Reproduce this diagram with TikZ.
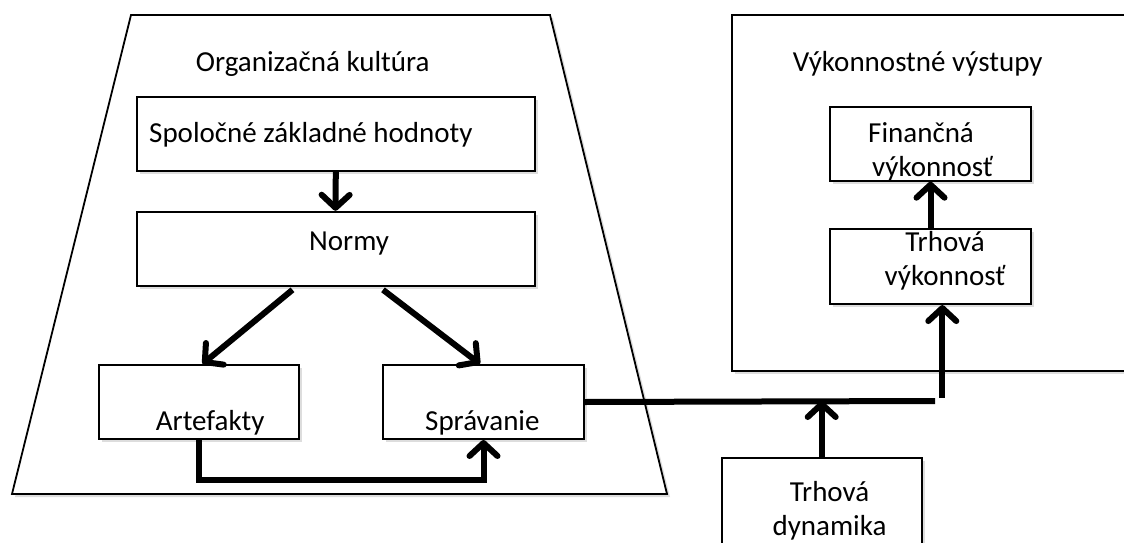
\documentclass[tikz,border=0pt]{standalone}
\usepackage{fontspec}
\setmainfont{Carlito}
\usetikzlibrary{arrows.meta,shadows}

\tikzset{
  shade/.style={drop shadow={shadow xshift=3pt,shadow yshift=-3pt,opacity=0.22,fill=black!60}},
  box/.style={draw,line width=2pt,fill=white,inner sep=0pt,shade},
  lbl/.style={inner sep=0pt,font=\fontsize{29}{34}\selectfont},
  arr/.style={line width=6pt,-{Straight Barb[length=13pt,width=28pt,round]}}
}

\begin{document}
\begin{tikzpicture}[x=1pt,y=-1pt]
  \clip (0,0) rectangle (1124,543);
  % Outer frames
  \draw[line width=1.8pt,fill=white,shade] (131,15) -- (550,15) -- (667,494) -- (12,494) -- cycle;
  \draw[line width=1.8pt,fill=white,shade] (732,15) rectangle (1140,370.7);
  \node[lbl,anchor=base west] (kultura) at (195.7,71.7) {Organizačná kultúra};
  \node[lbl,anchor=base west] (vystupy) at (792.7,71.7) {Výkonnostné výstupy};
  % Boxes of the culture
  \node[box,minimum width=398pt,minimum height=74pt] (hodnoty) at (335.8,133.7) {};
  \node[box,minimum width=398pt,minimum height=74pt] (normy) at (335.5,248.8) {};
  \node[box,minimum width=200pt,minimum height=74pt] (artefakty) at (199,402) {};
  \node[box,minimum width=201pt,minimum height=74pt] (spravanie) at (483.5,402) {};
  \node[lbl,anchor=base west] at (149,142) {Spoločné základné hodnoty};
  \node[lbl,anchor=base west] at (309,250) {Normy};
  \node[lbl,anchor=base west] at (155.7,430) {Artefakty};
  \node[lbl,anchor=base west] at (425,430) {Správanie};
  % Boxes of the outputs
  \node[box,minimum width=201pt,minimum height=74pt] (financna) at (930.5,143.7) {};
  \node[box,minimum width=201pt,minimum height=74.7pt] (trhova) at (930.5,266.7) {};
  \node[box,minimum width=200pt,minimum height=100pt] (dynamika) at (821.7,508) {};
  \node[lbl,anchor=base west,align=left] at (868,176.7) {Finančná\\\hspace*{4pt}výkonnosť};
  \node[lbl,anchor=base,align=center] at (945,285) {Trhová\\výkonnosť};
  \node[lbl,anchor=base,align=center] at (829.5,535) {Trhová\\dynamika};
  % Connectors
  \coordinate (spoj) at (935,401);
  \coordinate (vzostup) at (942.3,398);
  \draw[arr] (hodnoty.south) -- (normy.north);
  \draw[arr] ([xshift=-43pt,yshift=-3pt]normy.south) -- ([xshift=3.5pt]artefakty.north);
  \draw[arr] ([xshift=47.5pt,yshift=-3pt]normy.south) -- ([xshift=-3.5pt]spravanie.north);
  \draw[arr] (artefakty.south) -- ++(0,40) -| (spravanie.south);
  \draw[line width=6pt] (spravanie.east) -- (spoj);
  \draw[arr] (vzostup) -- ([xshift=11.8pt]trhova.south);
  \draw[arr] (dynamika.north) -- (dynamika.north |- spoj);
  \draw[arr] (trhova.north) -- (financna.south);
\end{tikzpicture}
\end{document}
